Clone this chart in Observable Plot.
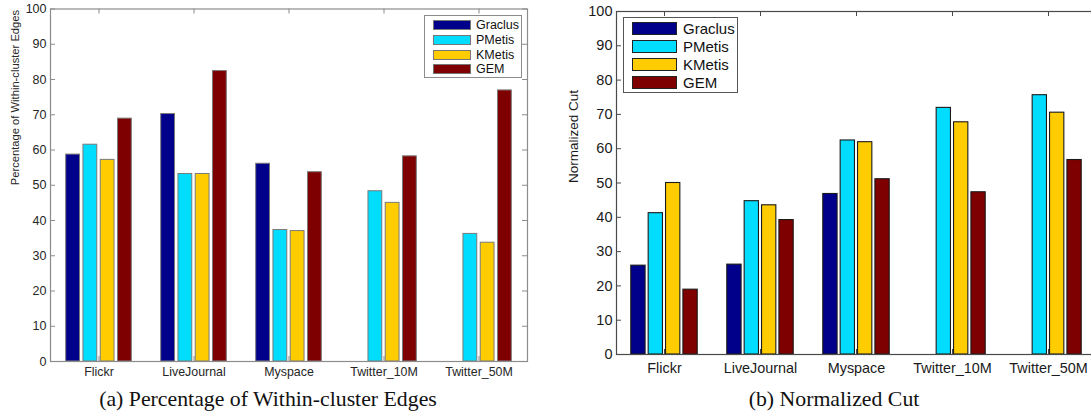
<!DOCTYPE html>
<html>
<head>
<meta charset="utf-8">
<script src="https://cdn.jsdelivr.net/npm/d3@7"></script>
<script src="https://cdn.jsdelivr.net/npm/@observablehq/plot@0.6"></script>
<style>
  html, body { margin: 0; padding: 0; background: #fff; }
  body { width: 1091px; height: 412px; overflow: hidden; position: relative; font-family: "Liberation Sans", Arial, sans-serif; }
  .panel { position: absolute; top: 0; }
  .panel svg { max-width: none !important; }
  .caption { position: absolute; font-family: "Liberation Serif", "Times New Roman", serif; font-size: 21.8px; line-height: 25px; color: #111; white-space: nowrap; transform: translateX(-50%); }
  .legend { position: absolute; background: #fff; box-sizing: border-box; }
  .legend .row { display: flex; align-items: center; position: absolute; left: 0; }
  .legend .sw { box-sizing: border-box; display: inline-block; }
  .legend span.t { white-space: nowrap; color: #111; }
</style>
</head>
<body>
<div id="left" class="panel" style="left:0; width:545px"></div>
<div id="right" class="panel" style="left:545px; width:560px"></div>
<div class="caption" style="left:268px; top:387px">(a) Percentage of Within-cluster Edges</div>
<div class="caption" style="left:834px; top:387px">(b) Normalized Cut</div>
<div id="legL" class="legend"></div>
<div id="legR" class="legend"></div>
<script>
// ---- data ----
const categories = ["Flickr", "LiveJournal", "Myspace", "Twitter_10M", "Twitter_50M"];
const seriesNames = ["Graclus", "PMetis", "KMetis", "GEM"];
const seriesColors = ["#00008B", "#00DDFF", "#FFCC00", "#7F0000"];
const yTicks = [0, 10, 20, 30, 40, 50, 60, 70, 80, 90, 100];

// (a) Percentage of Within-cluster Edges (null = no bar)
const withinGraclus = [58.7, 70.2, 56.1, null, null];
const withinPMetis  = [61.5, 53.2, 37.3, 48.3, 36.2];
const withinKMetis  = [57.2, 53.2, 37.0, 45.0, 33.7];
const withinGEM     = [68.9, 82.4, 53.7, 58.2, 76.9];

// (b) Normalized Cut
const cutGraclus = [25.9, 26.2, 46.8, null, null];
const cutPMetis  = [41.2, 44.7, 62.4, 71.9, 75.6];
const cutKMetis  = [50.0, 43.5, 61.9, 67.7, 70.5];
const cutGEM     = [18.9, 39.2, 51.1, 47.3, 56.7];

const yLabelA = "Percentage of Within-cluster Edges";
const yLabelB = "Normalized Cut";

function rows(arrays) {
  const out = [];
  arrays.forEach((arr, si) => arr.forEach((v, ci) => {
    if (v != null) out.push({cat: categories[ci], series: seriesNames[si], value: v});
  }));
  return out;
}

function panel(cfg) {
  const data = rows(cfg.arrays);
  const innerW = cfg.width - cfg.ml - cfg.mr;
  const innerH = cfg.height - cfg.mt - cfg.mb;
  const step = innerW / categories.length;
  const barW = 0.149 * step, pitch = 0.181 * step;
  const groupW = 3 * pitch + barW;
  const start = (step - groupW) / 2;
  const barMarks = seriesNames.map((s, i) => Plot.barY(data.filter(d => d.series === s), {
    x: "cat", y: "value", fill: seriesColors[i],
    stroke: cfg.barStroke, strokeWidth: cfg.barStrokeWidth,
    insetLeft: start + i * pitch,
    insetRight: step - (start + i * pitch + barW)
  }));
  const tick = 5;
  const svg = Plot.plot({
    width: cfg.width, height: cfg.height,
    marginLeft: cfg.ml, marginRight: cfg.mr, marginTop: cfg.mt, marginBottom: cfg.mb,
    style: {fontFamily: "'Liberation Sans', Arial, sans-serif", background: "transparent", color: cfg.textColor},
    x: {type: "band", domain: categories, paddingInner: 0, paddingOuter: 0, axis: null},
    y: {domain: [0, 100], axis: null},
    marks: [
      ...barMarks,
      // y ticks inward on left and right
      Plot.ruleY(yTicks, {y: d => d, stroke: cfg.axisColor, insetRight: innerW - tick}),
      Plot.ruleY(yTicks, {y: d => d, stroke: cfg.axisColor, insetLeft: innerW - tick}),
      // x ticks inward on bottom and top
      Plot.ruleX(categories, {x: d => d, stroke: cfg.axisColor, insetTop: innerH - tick}),
      Plot.ruleX(categories, {x: d => d, stroke: cfg.axisColor, insetBottom: innerH - tick}),
      Plot.frame({stroke: cfg.axisColor, strokeWidth: 1.2}),
      Plot.axisY({anchor: "left", ticks: yTicks, tickSize: 0, tickPadding: cfg.yPad, fontSize: cfg.tickFont, label: null, fill: cfg.textColor}),
      Plot.axisX({anchor: "bottom", tickSize: 0, tickPadding: cfg.xPad, fontSize: cfg.xFont, label: null, fill: cfg.textColor}),
      Plot.text([cfg.yLabel], {text: d => d, frameAnchor: "left", rotate: -90, dx: cfg.yLabelDx, fontSize: cfg.yLabelFont, fill: cfg.textColor})
    ]
  });
  svg.style.maxWidth = "none";
  svg.style.width = cfg.width + "px";
  svg.style.height = cfg.height + "px";
  return svg;
}

document.getElementById("left").appendChild(panel({
  arrays: [withinGraclus, withinPMetis, withinKMetis, withinGEM],
  width: 545, height: 386, ml: 50, mr: 18, mt: 8.5, mb: 25,
  barStroke: "#7a7a7a", barStrokeWidth: 1, axisColor: "#8c8c8c", textColor: "#262626",
  tickFont: 12.5, xFont: 12.4, yPad: 4, xPad: 6, yLabel: yLabelA, yLabelDx: -35, yLabelFont: 11.2
}));
document.getElementById("right").appendChild(panel({
  arrays: [cutGraclus, cutPMetis, cutKMetis, cutGEM],
  width: 560, height: 380, ml: 71, mr: 9, mt: 11, mb: 26,
  barStroke: "#1a1a1a", barStrokeWidth: 1.1, axisColor: "#4a4a4a", textColor: "#1a1a1a",
  tickFont: 14.5, xFont: 14.4, yPad: 4, xPad: 8, yLabel: yLabelB, yLabelDx: -43, yLabelFont: 13.5
}));

function legend(el, cfg) {
  Object.assign(el.style, {left: cfg.x + "px", top: cfg.y + "px", width: cfg.w + "px", height: cfg.h + "px", border: "1px solid " + cfg.border});
  seriesNames.forEach((s, i) => {
    const row = document.createElement("div");
    row.className = "row";
    row.style.top = (cfg.rowTop + i * cfg.rowStep) + "px";
    row.style.left = cfg.swLeft + "px";
    const sw = document.createElement("span");
    sw.className = "sw";
    Object.assign(sw.style, {width: cfg.swW + "px", height: cfg.swH + "px", background: seriesColors[i], border: "1px solid " + cfg.swBorder});
    const t = document.createElement("span");
    t.className = "t";
    t.textContent = s;
    Object.assign(t.style, {fontSize: cfg.font + "px", marginLeft: cfg.gap + "px", lineHeight: cfg.swH + "px"});
    row.appendChild(sw); row.appendChild(t);
    el.appendChild(row);
  });
}
legend(document.getElementById("legL"), {x: 424, y: 15, w: 98, h: 63, border: "#8c8c8c", rowTop: 4, rowStep: 14.8, swLeft: 8, swW: 38, swH: 10, swBorder: "#777", font: 12.5, gap: 5});
legend(document.getElementById("legR"), {x: 623, y: 17, w: 115, h: 76, border: "#555", rowTop: 4, rowStep: 18, swLeft: 8, swW: 45, swH: 13, swBorder: "#222", font: 15, gap: 6});
</script>
</body>
</html>
